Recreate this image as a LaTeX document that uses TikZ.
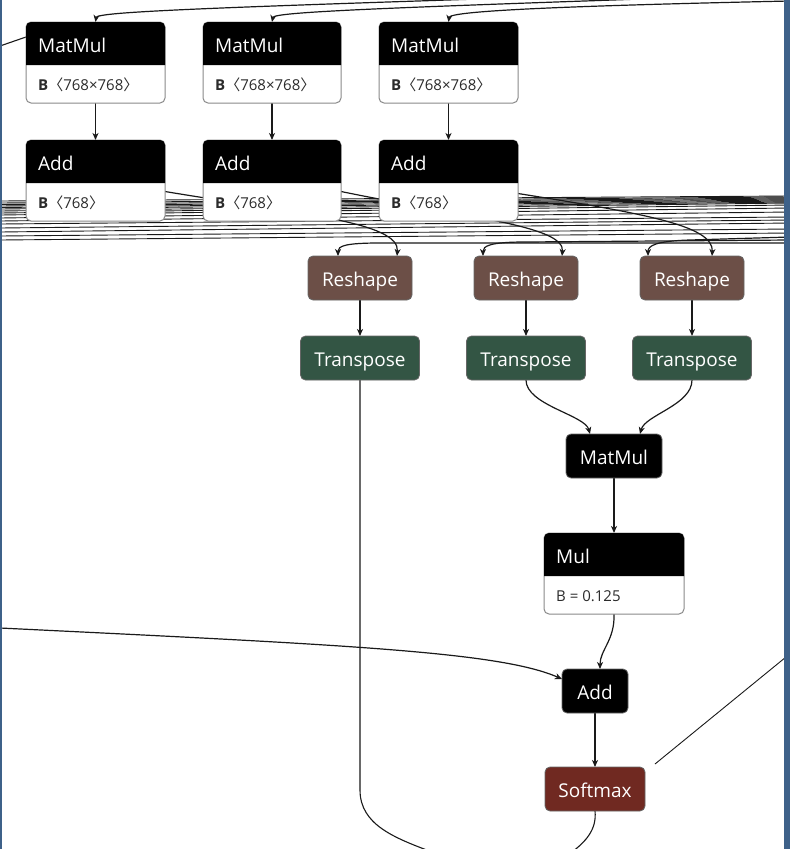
\documentclass[tikz,border=0pt]{standalone}
\usepackage{fontspec}
\setmainfont{Open Sans}
\newfontfamily\cjkf{Noto Sans CJK SC}
\usetikzlibrary{arrows.meta,backgrounds}
\definecolor{borderblue}{HTML}{3E6189}
\definecolor{reshapec}{HTML}{6C4F47}
\definecolor{transc}{HTML}{335544}
\definecolor{softc}{HTML}{702921}
\definecolor{edgec}{HTML}{1A1A1A}
\definecolor{boxgray}{HTML}{8A8A8A}
\definecolor{bodytext}{HTML}{2B2B2B}
\tikzset{
 edge/.style={draw=edgec, line width=1.2pt, -{Stealth[length=7pt,width=6pt,inset=2pt]}},
 wire/.style={draw=edgec, line width=1.1pt},
 bundle/.style={draw=edgec, line width=0.9pt},
 opbody/.style={draw=boxgray, fill=white, rounded corners=5pt, inner sep=0pt, outer sep=0pt, line width=1pt},
 optitle/.style={text=white, font=\fontsize{19}{22}\selectfont, inner sep=0pt, anchor=west},
 opattr/.style={text=bodytext, font=\fontsize{15}{18}\selectfont, inner sep=0pt, anchor=west},
 simple/.style={rounded corners=5pt, minimum height=44pt, inner sep=0pt, outer sep=0pt, text=white, font=\fontsize{19}{22}\selectfont, text height=16pt, text depth=0pt, draw=black!60, line width=0.8pt},
 reshapebox/.style={simple, fill=reshapec, minimum width=104pt},
 transbox/.style={simple, fill=transc, minimum width=119pt},
 blackbox/.style={simple, fill=black},
 softbox/.style={simple, fill=softc, minimum width=100pt},
}
\newcommand\opbox[6]{%
 \node[opbody, anchor=north west, minimum width=#4pt, minimum height=81pt] (#1) at (#2,#3) {};
 \fill[black] (#2,#3+43) [rounded corners=5pt] -- (#2,#3) -- (#2+#4,#3) [sharp corners] -- (#2+#4,#3+43) -- cycle;
 \node[optitle] (#1-t) at (#2+12,#3+23) {#5};
 \node[opattr] (#1-a) at (#2+12,#3+63) {#6};
}
\newcommand\shapeattr[1]{\textbf{B}{\cjkf 〈}#1{\cjkf 〉}}
\begin{document}
\begin{tikzpicture}[x=1pt,y=-1pt]
\useasboundingbox (0,0) rectangle (790,849);
% nodes
\opbox{m1}{26}{22}{139}{MatMul}{\shapeattr{768×768}}
\opbox{m2}{203}{22}{138}{MatMul}{\shapeattr{768×768}}
\opbox{m3}{379}{22}{139}{MatMul}{\shapeattr{768×768}}
\opbox{a1}{26}{140}{139}{Add}{\shapeattr{768}}
\opbox{a2}{203}{140}{138}{Add}{\shapeattr{768}}
\opbox{a3}{379}{140}{139}{Add}{\shapeattr{768}}
\node[reshapebox] (r1) at (360,278) {Reshape};
\node[reshapebox] (r2) at (526,278) {Reshape};
\node[reshapebox] (r3) at (692,278) {Reshape};
\node[transbox] (t1) at (360,358) {Transpose};
\node[transbox] (t2) at (526,358) {Transpose};
\node[transbox] (t3) at (692,358) {Transpose};
\node[blackbox, minimum width=96pt] (mm) at (614,456) {MatMul};
\opbox{mul}{544}{533}{140}{Mul}{B = 0.125}
\node[blackbox, minimum width=66pt] (ad) at (595,691) {Add};
\node[softbox] (sm) at (595,789) {Softmax};

\begin{pgfonlayer}{background}
\fill[white] (0,0) rectangle (790,849);
% bundle of long lines
\foreach \a/\b [count=\i] in {201/196, 203/197, 204.5/198, 206/199, 207.5/200, 209/201, 211/202, 213/203, 215/205, 218/208, 221/212, 224/217, 228/220, 232/223, 236/229, 240/233}{
  \coordinate (bl\i) at (0,\a);
  \coordinate (br\i) at (790,\b);
  \draw[bundle] (bl\i) -- (br\i);
}
% top inputs
\coordinate (tin1) at (540,-3);
\coordinate (tin2) at (700,-3);
\coordinate (tin3) at (790,1);
\draw[edge] (tin1) .. controls (200,8) and (97,12) .. (m1.north);
\draw[edge] (tin2) .. controls (380,8) and (274,12) .. (m2.north);
\draw[edge] (tin3) .. controls (560,6) and (450,11) .. (m3.north);
\coordinate (lin) at (0,46);
\draw[wire] (lin) -- ([yshift=-15pt]m1.north west);
% matmul -> add
\draw[edge] (m1.south) -- (a1.north);
\draw[edge] (m2.south) -- (a2.north);
\draw[edge] (m3.south) -- (a3.north);
% add -> reshape
\draw[edge] ([yshift=-11pt]a1.east) .. controls (300,214) and (400,222) .. ([xshift=37pt]r1.north);
\draw[edge] ([yshift=-11pt]a2.east) .. controls (470,218) and (565,226) .. ([xshift=36pt]r2.north);
\draw[edge] ([yshift=-13pt]a3.east) .. controls (640,213) and (714,225) .. ([xshift=20pt]r3.north);
% shape feeders
\coordinate (f1) at (790,243);
\coordinate (f2) at (790,240);
\coordinate (f3) at (790,237);
\draw[edge] (f1) -- (380,243) .. controls (345,243) and (338,246) .. ([xshift=-22pt]r1.north);
\draw[edge] (f2) -- (525,242) .. controls (490,242) and (483,246) .. ([xshift=-43pt]r2.north);
\draw[edge] (f3) -- (690,240) .. controls (655,241) and (648,246) .. ([xshift=-44pt]r3.north);
% reshape -> transpose
\draw[edge] (r1.south) -- (t1.north);
\draw[edge] (r2.south) -- (t2.north);
\draw[edge] (r3.south) -- (t3.north);
% transpose -> matmul
\draw[edge] (t2.south) .. controls (526,405) and (585,415) .. ([xshift=-24pt]mm.north);
\draw[edge] (t3.south) .. controls (692,405) and (645,415) .. ([xshift=26pt]mm.north);
\draw[edge] (mm.south) -- (mul.north);
\draw[edge] (mul.south) .. controls (615,640) and (600,650) .. ([xshift=5pt]ad.north);
\coordinate (lin2) at (0,628);
\draw[edge] (lin2) .. controls (350,645) and (500,652) .. ([yshift=12pt]ad.west);
\draw[edge] (ad.south) -- (sm.north);
% outgoing
\coordinate (o1) at (432,852);
\coordinate (o2) at (572,852);
\draw[wire] (t1.south) -- (360,790) .. controls (360,825) and (395,838) .. (o1);
\draw[wire] (sm.south) .. controls (597,830) and (585,842) .. (o2);
\coordinate (rin) at (786,657);
\coordinate (rend) at (655,764);
\draw[wire, line width=0.9pt] (rin) -- (rend);
\end{pgfonlayer}
% window borders
\fill[borderblue] (784,0) rectangle (790,849);
\fill[borderblue] (0,0) rectangle (2,849);
\end{tikzpicture}
\end{document}
